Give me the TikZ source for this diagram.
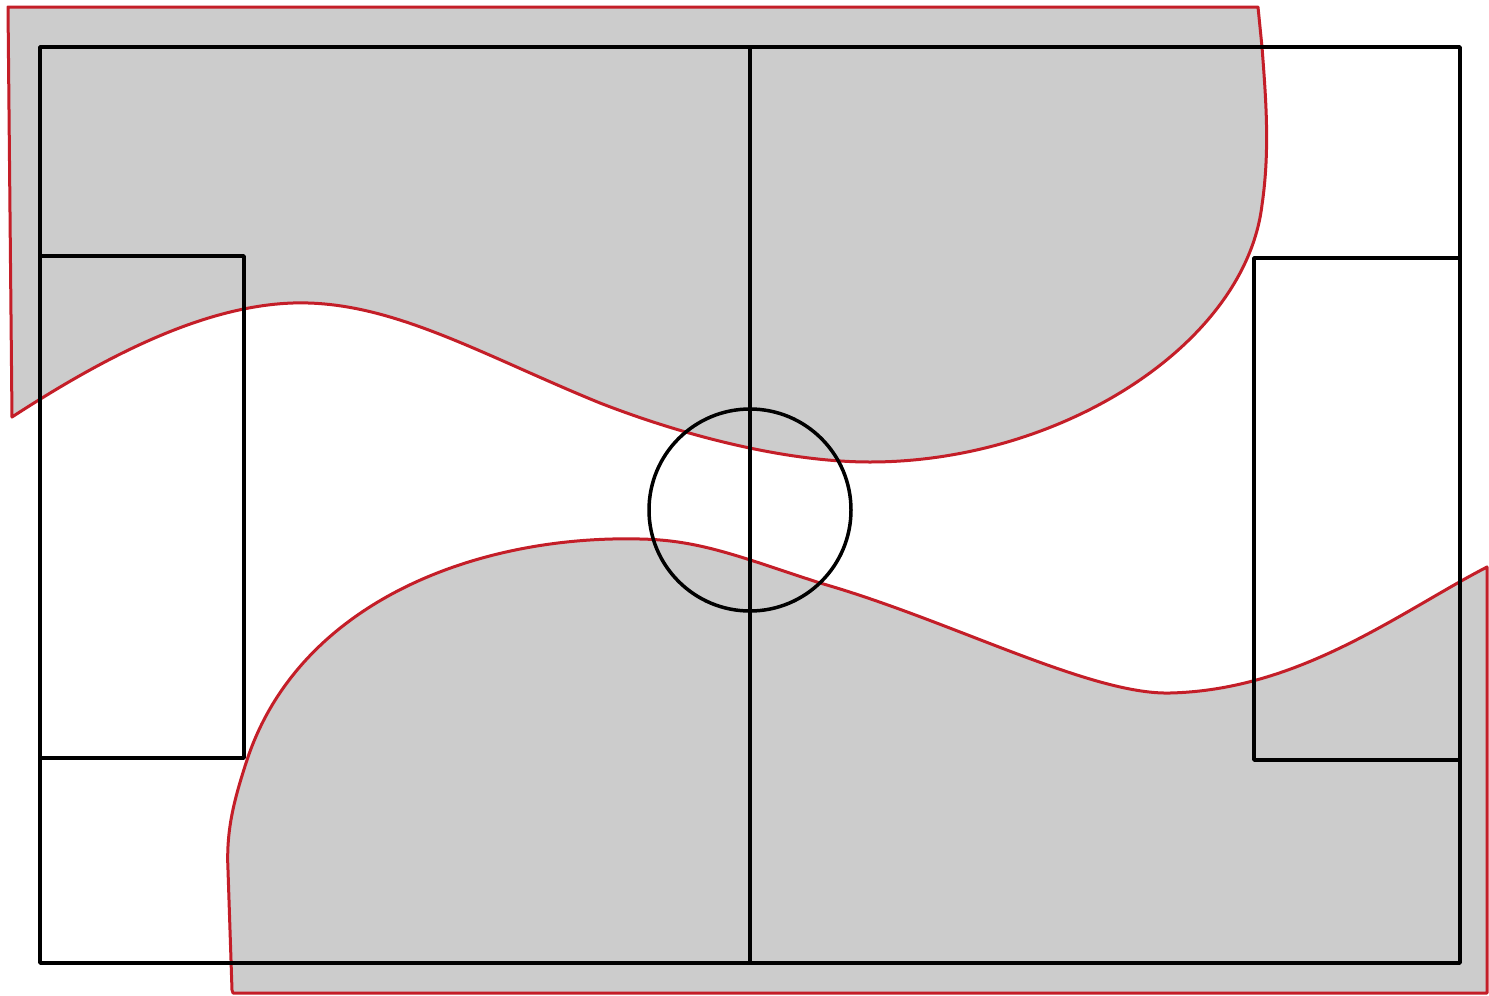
\documentclass[tikz,border=0pt]{standalone}
\begin{document}
\begin{tikzpicture}[x=1pt,y=-1pt,
  zone/.style={fill=zonegray,draw=zonered,line width=3pt,line join=round},
  pitchline/.style={draw=black,line width=3.5pt,line join=round}]
\definecolor{zonegray}{RGB}{204,204,204}
\definecolor{zonered}{RGB}{196,30,40}
\useasboundingbox[fill=white] (0,0) rectangle (1489,996);
% top shaded zone
\path[zone] (8,7) -- (1258,7) -- (1262,47)
  .. controls (1266,100) and (1270,150) .. (1262,205)
  .. controls (1245,345) and (1060,462) .. (870,462)
  .. controls (790,462) and (690,438) .. (600,403)
  .. controls (480,354) and (390,300) .. (293,303)
  .. controls (200,306) and (100,360) .. (12,417) -- cycle;
% bottom shaded zone
\path[zone] (233,993) -- (1487,993) -- (1487,567)
  .. controls (1400,612) and (1300,690) .. (1170,693)
  .. controls (1090,695) and (950,620) .. (820,583)
  .. controls (740,557) and (700,540) .. (640,539)
  .. controls (480,535) and (300,600) .. (247,760)
  .. controls (234,800) and (226,830) .. (228,870)
  -- (232,990) -- cycle;
% pitch markings
\coordinate (tl) at (40,47);
\coordinate (br) at (1460,963);
\path[pitchline] (tl) rectangle (br);
\coordinate (midtop) at (750,47);
\coordinate (midbot) at (750,963);
\path[pitchline] (midtop) -- (midbot);
\coordinate (lbtl) at (40,256);
\coordinate (lbbr) at (244,758);
\path[pitchline] (lbtl) rectangle (lbbr);
\coordinate (rbtl) at (1254,258);
\coordinate (rbbr) at (1460,760);
\path[pitchline] (rbtl) rectangle (rbbr);
\coordinate (centre) at (750,510);
\path[pitchline] (centre) circle[radius=101];
\end{tikzpicture}
\end{document}
